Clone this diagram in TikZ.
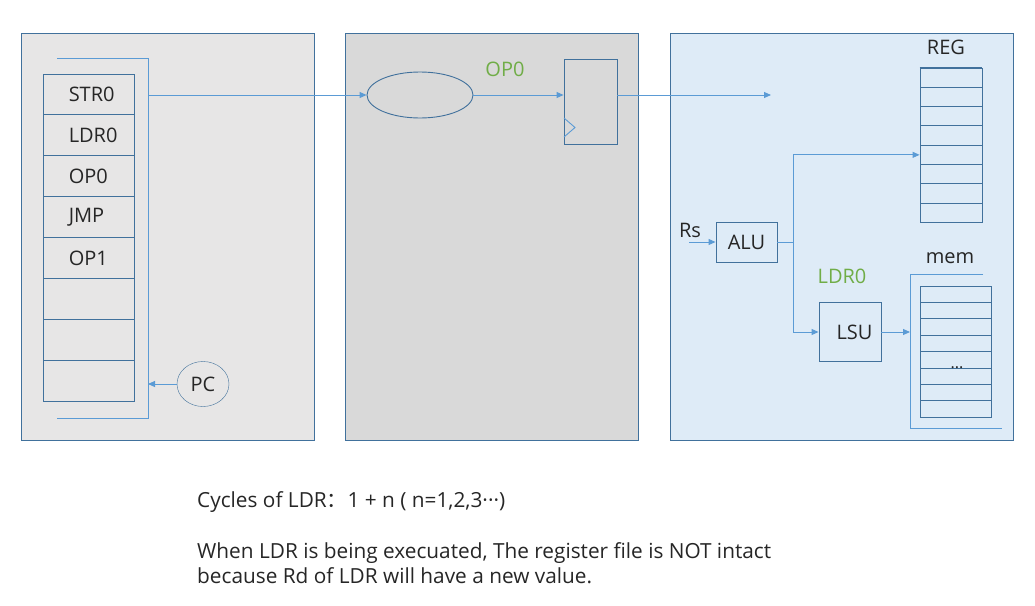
\documentclass[tikz,border=0pt]{standalone}
\usepackage{fontspec}
\setmainfont{Open Sans}
\newfontfamily\cjk{Noto Sans CJK SC}
\usetikzlibrary{arrows.meta,shapes.geometric}

\definecolor{frame}{HTML}{41719C}
\definecolor{wire}{HTML}{5B9BD5}
\definecolor{opgreen}{HTML}{70AD47}
\definecolor{stageA}{HTML}{E7E6E6}
\definecolor{stageB}{HTML}{D9D9D9}
\definecolor{stageC}{HTML}{DEEBF7}

\tikzset{
  panel/.style={draw=frame,line width=1pt},
  cell/.style={draw=frame,line width=0.9pt,rectangle,inner sep=0pt},
  wire/.style={draw=wire,line width=0.9pt},
  lbl/.style={font=\fontsize{20}{24}\selectfont,inner sep=0pt,text=black!85},
  note/.style={lbl,anchor=base west,font=\fontsize{20.8}{25}\selectfont},
}

\begin{document}
\begin{tikzpicture}[x=1pt,y=-1pt,>={Triangle[length=7pt,width=6pt]}]
\useasboundingbox[fill=white] (0,0) rectangle (1035,605);

% three stages
\draw[panel,fill=stageA] (21,33) rectangle (314,440);
\draw[panel,fill=stageB] (345,33) rectangle (638,440);
\draw[panel,fill=stageC] (670,33) rectangle (1013,440);

% instruction memory
\foreach \t [count=\i] in {STR0,LDR0,OP0,JMP,OP1,{},{},{}} {
  \node[cell,minimum width=91pt,minimum height=40.9pt] (im\i) at (88.5,{74+40.9*(\i-0.5)}) {};
  \node[lbl,anchor=west] (iml\i) at ([xshift=26pt]im\i.west) {\t};
}
\draw[wire] (57,58) -- (148,58) -- (148,418) -- (57,418);
\coordinate (fetch) at (148,95);
\coordinate (pcin) at (148,384);
\node[draw=frame,ellipse,minimum width=52pt,minimum height=45pt,lbl] (pc) at (203,384) {PC};
\draw[wire,->] (pc.west) -- (pcin);

% decode
\node[draw=frame,ellipse,line width=0.9pt,minimum width=106pt,minimum height=46pt] (dec) at (420,95) {};
\node[cell,minimum width=53pt,minimum height=85pt] (pipe) at (590.5,101.5) {};
\draw[wire] (564,118) -- (575,127.5) -- (564,137);
\node[lbl,text=opgreen] (opA) at (505,69) {OP0};
\draw[wire,->] (fetch) -- (dec.west);
\draw[wire,->] (dec.east) -- (dec.east -| pipe.west);

% execute
\coordinate (exe) at (771,95);
\draw[wire,->] (pipe.east |- exe) -- (exe);

\node[lbl] (reglbl) at (946,47) {REG};
\foreach \i in {1,...,8}
  \node[cell,minimum width=62pt,minimum height=19.3pt] (reg\i) at (951,{68+19.3*(\i-0.5)}) {};
\draw[frame,line width=2pt] (reg1.north west) -- (reg1.north east);

\node[cell,lbl,minimum width=61pt,minimum height=40pt] (alu) at (746.5,242) {ALU};
\node[lbl] (rs) at (690,230) {Rs};
\coordinate (rsin) at (689,242);
\draw[wire,->] (rsin) -- (alu.west);

\node[cell,lbl,minimum width=62pt,minimum height=59pt] (lsu) at (850,332) {\hspace{9pt}LSU};
\node[lbl,text=opgreen] (ldrA) at (842,276) {LDR0};
\coordinate (fork) at (793,242);
\draw[wire] (alu.east) -- (fork);
\draw[wire,->] (fork) |- (reg5.west);
\draw[wire,->] (fork) |- (lsu.west);

\node[lbl] (memlbl) at (950,258) {mem};
\draw[wire] (983,274) -- (910,274) -- (910,428) -- (1002,428);
\foreach \i in {1,...,8}
  \node[cell,minimum width=71pt,minimum height=16.4pt] (mem\i) at (955.5,{286+16.4*(\i-0.5)}) {};
\node[lbl,anchor=base,font=\fontsize{16}{18}\selectfont] (dots) at (957,368) {...};
\coordinate (memin) at (910,332);
\draw[wire,->] (lsu.east) -- (lsu.east -| memin);

% notes
\node[note] (cyc) at (197,507) {Cycles of LDR{\cjk ：}1 + n ( n=1,2,3···)};
\node[note] (noteA) at (197,558) {When LDR is being execuated, The register file is NOT intact};
\node[note] (noteB) at (197,583) {because Rd of LDR will have a new value.};
\end{tikzpicture}
\end{document}
